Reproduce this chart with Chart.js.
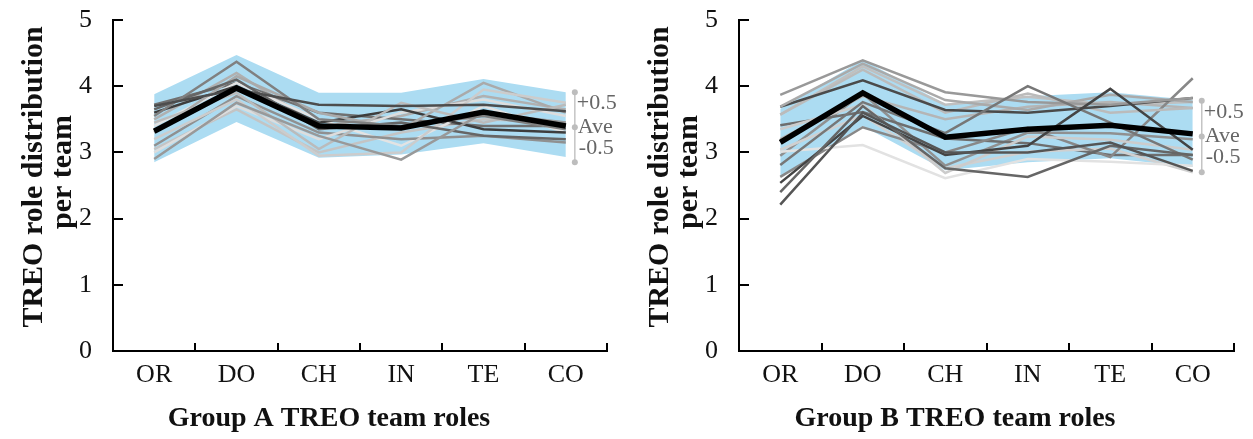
<!DOCTYPE html>
<html>
<head>
<meta charset="utf-8">
<script src="https://cdn.jsdelivr.net/npm/chart.js@4.4.0/dist/chart.umd.min.js"></script>
<style>
html, body { margin: 0; padding: 0; background: #fff; }
.wrap { display: flex; width: 1253px; height: 439px; }
.box { position: relative; width: 626px; height: 439px; }
.box.right { width: 627px; }
</style>
</head>
<body>
<div class="wrap">
  <div class="box"><canvas id="chartA"></canvas></div>
  <div class="box right"><canvas id="chartB"></canvas></div>
</div>
<script>
// categories and labels
const roles = ['OR', 'DO', 'CH', 'IN', 'TE', 'CO'];
const bracketLabels = ['+0.5', 'Ave', '-0.5'];
const yTitle = ['TREO role distribution', 'per team'];

// Group A
const meanA = [3.32, 3.97, 3.40, 3.37, 3.61, 3.40];
const upperA = [3.88, 4.47, 3.90, 3.90, 4.11, 3.91];
const lowerA = [2.85, 3.46, 2.92, 2.97, 3.14, 2.93];
const bracketA = [3.91, 3.38, 2.85];
const teamsA = [
    [3.70, 3.95, 3.72, 3.70, 3.72, 3.62],
    [3.55, 4.37, 3.50, 3.40, 3.55, 3.35],
    [2.90, 3.75, 3.25, 2.89, 3.60, 3.45],
    [3.65, 4.10, 3.35, 3.45, 3.25, 3.20],
    [3.45, 3.90, 3.05, 3.75, 3.45, 3.72],
    [3.20, 3.80, 2.95, 3.00, 3.95, 3.75],
    [3.30, 4.15, 3.60, 3.35, 4.05, 3.60],
    [3.60, 4.00, 3.45, 3.65, 3.35, 3.30],
    [3.00, 3.70, 3.20, 3.60, 3.80, 3.55],
    [3.10, 3.85, 3.30, 3.20, 3.25, 3.15],
    [3.40, 4.05, 3.50, 3.10, 3.70, 3.30],
    [3.72, 4.05, 3.60, 3.50, 3.40, 3.40],
    [3.05, 3.65, 3.00, 3.30, 3.50, 3.45],
    [3.50, 4.20, 3.40, 3.55, 3.85, 3.65]
];

// Group B
const meanB = [3.15, 3.90, 3.23, 3.35, 3.41, 3.28];
const upperB = [3.66, 4.40, 3.73, 3.85, 3.91, 3.79];
const lowerB = [2.64, 3.40, 2.73, 2.85, 2.91, 2.78];
const bracketB = [3.78, 3.24, 2.70];
const teamsB = [
    [2.21, 3.60, 3.00, 3.00, 3.15, 2.72],
    [2.40, 3.70, 2.76, 2.63, 3.10, 2.96],
    [2.54, 3.55, 2.96, 3.10, 3.96, 3.04],
    [2.81, 3.76, 3.29, 4.00, 3.45, 2.89],
    [3.87, 4.39, 3.91, 3.76, 3.72, 3.82],
    [3.69, 4.34, 3.79, 3.64, 3.87, 3.76],
    [3.69, 4.09, 3.64, 3.60, 3.70, 3.82],
    [3.57, 4.25, 3.60, 3.89, 3.60, 3.67],
    [3.35, 3.72, 2.69, 3.24, 3.19, 3.04],
    [3.01, 3.11, 2.61, 2.90, 2.86, 2.80],
    [2.63, 3.38, 3.00, 3.37, 2.93, 4.12],
    [3.04, 3.56, 2.76, 3.01, 3.06, 2.70],
    [3.41, 3.61, 3.21, 3.14, 2.96, 2.96],
    [3.20, 3.85, 3.50, 3.69, 3.76, 3.67],
    [2.95, 3.89, 2.80, 3.30, 3.29, 3.20],
    [3.57, 4.30, 3.72, 3.84, 3.72, 3.76]
];

const graysA = ['#4d4d4d', '#808080', '#999999', '#666666', '#bbbbbb', '#cccccc', '#aaaaaa',
    '#3d3d3d', '#dddddd', '#909090', '#e3e3e3', '#707070', '#c4c4c4', '#b0b0b0'];
const graysB = ['#555555', '#666666', '#444444', '#777777', '#999999', '#aaaaaa', '#4a4a4a', '#bbbbbb',
    '#cccccc', '#e2e2e2', '#888888', '#d0d0d0', '#6e6e6e', '#b5b5b5', '#909090', '#c0c0c0'];

const serif = "'Liberation Serif', 'Times New Roman', serif";

function buildDatasets(mean, upper, lower, teams, grays) {
    const sets = [{ data: mean, borderColor: '#000', borderWidth: 5.5 }];
    teams.forEach((t, i) => {
        sets.push({ data: t, borderColor: grays[i], borderWidth: 2.5 });
    });
    sets.push({ data: upper, borderColor: 'rgba(0,0,0,0)', borderWidth: 0, backgroundColor: '#acdcf2', fill: '+1' });
    sets.push({ data: lower, borderColor: 'rgba(0,0,0,0)', borderWidth: 0, fill: false });
    return sets;
}

// y ticks pointing inward, titles and the +0.5 / Ave / -0.5 bracket
const decor = {
    id: 'decor',
    afterDatasetsDraw(chart, args, opts) {
        const { ctx } = chart;
        const x = chart.scales.x, y = chart.scales.y;
        const bx = x.getPixelForValue(roles.length - 1) + 9;
        const py = opts.bracket.map(v => y.getPixelForValue(v));
        ctx.save();
        ctx.strokeStyle = '#c4c4c4';
        ctx.lineWidth = 1.5;
        ctx.beginPath();
        ctx.moveTo(bx, py[0]);
        ctx.lineTo(bx, py[2]);
        ctx.stroke();
        ctx.fillStyle = '#bdbdbd';
        py.forEach(p => {
            ctx.beginPath();
            ctx.arc(bx, p, 3, 0, Math.PI * 2);
            ctx.fill();
        });
        ctx.fillStyle = '#666';
        ctx.font = '22px ' + serif;
        ctx.textAlign = 'left';
        ctx.textBaseline = 'middle';
        ctx.fillText(bracketLabels[0], bx + 2, py[0] + 11);
        ctx.fillText(bracketLabels[1], bx + 3, py[1]);
        ctx.fillText(bracketLabels[2], bx + 4, py[1] + 21);
        ctx.restore();
    },
    afterDraw(chart, args, opts) {
        const { ctx } = chart;
        const y = chart.scales.y;
        ctx.save();
        ctx.strokeStyle = '#000';
        ctx.lineWidth = 2;
        y.ticks.forEach(t => {
            const p = Math.round(y.getPixelForValue(t.value));
            ctx.beginPath();
            ctx.moveTo(y.right, p);
            ctx.lineTo(y.right + 10, p);
            ctx.stroke();
        });
        ctx.fillStyle = '#111';
        ctx.font = 'bold 30px ' + serif;
        ctx.textAlign = 'center';
        ctx.textBaseline = 'alphabetic';
        [[42, 177], [71, 172]].forEach((p, i) => {
            ctx.save();
            ctx.translate(p[0], p[1]);
            ctx.rotate(-Math.PI / 2);
            ctx.fillText(yTitle[i], 0, 0);
            ctx.restore();
        });
        ctx.font = 'bold 28px ' + serif;
        ctx.fillText(opts.title, 329, 426);
        ctx.restore();
    }
};

function makeChart(id, mean, upper, lower, teams, grays, bracket, title) {
    return new Chart(document.getElementById(id), {
        type: 'line',
        data: { labels: roles, datasets: buildDatasets(mean, upper, lower, teams, grays) },
        plugins: [decor],
        options: {
            responsive: true,
            maintainAspectRatio: false,
            animation: false,
            layout: { padding: { top: 20, right: 19, left: 0, bottom: 0 } },
            elements: { point: { radius: 0 }, line: { tension: 0 } },
            plugins: {
                legend: { display: false },
                tooltip: { enabled: false },
                decor: { bracket: bracket, title: title }
            },
            scales: {
                x: {
                    offset: true,
                    grid: { offset: true, drawOnChartArea: false, tickLength: -8, color: '#000', lineWidth: 2 },
                    border: { color: '#000', width: 2 },
                    ticks: { color: '#111', font: { family: serif, size: 26 }, padding: 17, maxRotation: 0, autoSkip: false },
                    afterFit: s => { s.height = 88; }
                },
                y: {
                    min: 0,
                    max: 5,
                    grid: { display: false },
                    border: { display: true, color: '#000', width: 2 },
                    ticks: { stepSize: 1, color: '#111', font: { family: serif, size: 26 }, padding: 13 },
                    afterFit: s => { s.width = 113; s.paddingTop = 0; s.paddingBottom = 0; }
                }
            }
        }
    });
}

makeChart('chartA', meanA, upperA, lowerA, teamsA, graysA, bracketA, 'Group A TREO team roles');
makeChart('chartB', meanB, upperB, lowerB, teamsB, graysB, bracketB, 'Group B TREO team roles');
</script>
</body>
</html>
